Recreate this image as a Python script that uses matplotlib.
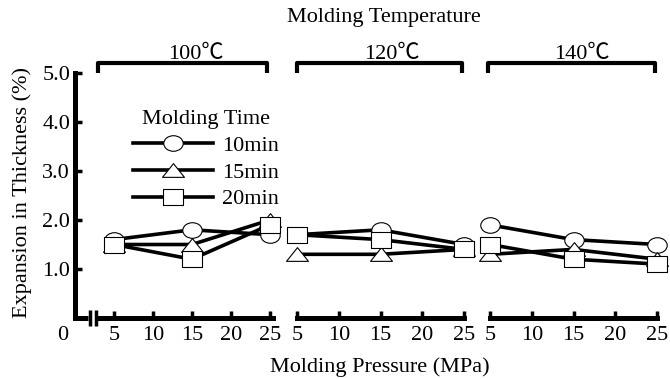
import matplotlib
matplotlib.use('Agg')
import matplotlib.pyplot as plt
from matplotlib.path import Path
from matplotlib.transforms import Affine2D

plt.rcParams['font.family'] = ['Liberation Serif', 'Noto Sans CJK JP', 'DejaVu Sans']
plt.rcParams['font.size'] = 16

# data
pressure = [5, 15, 25]
pressure_ticks = [5, 10, 15, 20, 25]
temperatures = ['100℃', '120℃', '140℃']
times = ['10min', '15min', '20min']

# expansion in thickness (%), one row per temperature (100, 120, 140 C)
exp_10min = [[1.6, 1.8, 1.7], [1.7, 1.8, 1.5], [1.9, 1.6, 1.5]]
exp_15min = [[1.5, 1.5, 2.0], [1.3, 1.3, 1.4], [1.3, 1.4, 1.2]]
exp_20min = [[1.5, 1.2, 1.9], [1.7, 1.6, 1.4], [1.5, 1.2, 1.1]]
series = [exp_10min, exp_15min, exp_20min]

# slightly wide markers like in the original scan
ellipse = Path.unit_circle().transformed(Affine2D().scale(1.25, 1.0))
square = Path([(-0.62, -0.5), (0.62, -0.5), (0.62, 0.5), (-0.62, 0.5), (-0.62, -0.5)], closed=True)
triangle = Path([(-0.8, -0.5), (0.8, -0.5), (0, 0.5), (-0.8, -0.5)], closed=True)
markers = [(ellipse, 14), (triangle, 15.8), (square, 14)]

W, H = 670, 379
fig = plt.figure(figsize=(W / 100, H / 100), dpi=100)

bottom = (H - 318) / H
height = 245 / H
ax1 = fig.add_axes([75 / W, bottom, 198 / W, height])
ax2 = fig.add_axes([297 / W, bottom, 167 / W, height])
ax3 = fig.add_axes([490 / W, bottom, 167 / W, height])
axes = [ax1, ax2, ax3]

ax1.set_xlim(0, 25.4)
ax2.set_xlim(5, 25)
ax3.set_xlim(5, 25)

lw_axis = 3.6
for i, ax in enumerate(axes):
    ax.set_ylim(0, 5.0)
    ax.patch.set_visible(False)
    for s in ['top', 'right']:
        ax.spines[s].set_visible(False)
    ax.spines['bottom'].set_linewidth(lw_axis)
    ax.spines['left'].set_linewidth(lw_axis)
    ax.set_xticks(pressure_ticks)
    ax.tick_params(direction='in', length=5, width=2.5, pad=6, labelsize=16)

    for vals, (mk, ms) in zip(series, markers):
        ax.plot(pressure, vals[i], color='black', lw=2.6, marker=mk, ms=ms,
                mfc='white', mec='black', mew=0.8, clip_on=False)

    # bracket with temperature label on top
    if i == 0:
        x0, x1 = (98 - 75) / 198, (267 - 75) / 198
        tx = (196 - 75) / 198
    elif i == 1:
        x0, x1 = 0.0, 0.99
        tx = (392 - 297) / 167
    else:
        x0, x1 = -0.01, 0.99
        tx = (582 - 490) / 167
    ax.plot([x0, x0, x1, x1], [1.0, 1.041, 1.041, 1.0], color='black', lw=3,
            transform=ax.transAxes, clip_on=False, solid_capstyle='butt')
    ax.text(tx, 1.057, temperatures[i], transform=ax.transAxes,
            ha='center', va='baseline', fontsize=16)

# y axis only on the first panel
ax1.set_yticks([1, 2, 3, 4, 5])
ax1.set_yticklabels(['1.0', '2.0', '3.0', '4.0', '5.0'])
ax1.spines['left'].set_bounds(0, 5)
ax1.tick_params(axis='y', pad=3.5)
for ax in [ax2, ax3]:
    ax.spines['left'].set_visible(False)
    ax.tick_params(axis='y', left=False, labelleft=False)
    ax.spines['bottom'].set_bounds(5, 25)

# broken x axis near the origin
ax1.spines['bottom'].set_bounds(2.95, 25.4)
xt = ax1.get_xaxis_transform()
ax1.plot([0, 1.67], [0, 0], color='black', lw=lw_axis, transform=xt,
         clip_on=False, solid_capstyle='butt')
for bx in [1.92, 2.69]:
    ax1.plot([bx, bx], [-0.033, 0.033], color='black', lw=2.5, transform=xt,
             clip_on=False, solid_capstyle='butt')
ax1.annotate('0', xy=(0, 0), xycoords='data', xytext=(-9, -6),
             textcoords='offset points', ha='center', va='top', fontsize=16)

leg = ax1.legend(ax1.lines[:3], times, title='Molding Time', loc='upper left',
                 bbox_to_anchor=(133 / W, 1 - 110 / H), bbox_transform=fig.transFigure,
                 frameon=False, borderpad=0, borderaxespad=0, handlelength=3.6,
                 handletextpad=0.4, labelspacing=0.28, numpoints=1, fontsize=16,
                 title_fontsize=16)

fig.text(384 / W, 1 - 22 / H, 'Molding Temperature', ha='center', va='baseline', fontsize=16)
fig.text(380 / W, 1 - 372 / H, 'Molding Pressure (MPa)', ha='center', va='baseline', fontsize=16)
fig.text(22 / W, 1 - 192 / H, 'Expansion in Thickness (%)', rotation=90,
         ha='center', va='center', fontsize=16)

plt.savefig('out.png', dpi=100)
